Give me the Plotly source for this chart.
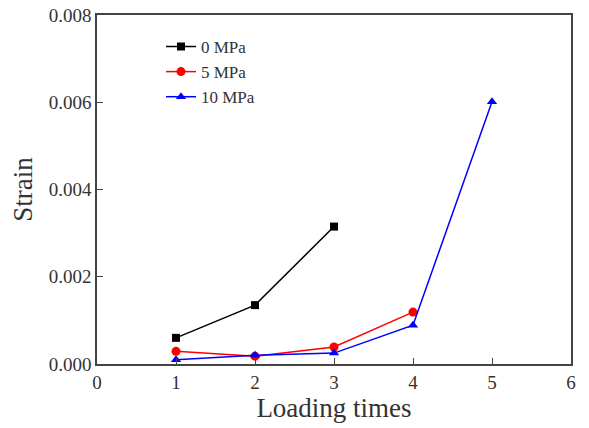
import plotly.graph_objects as go

x0 = [1, 2, 3]
y0 = [0.0006, 0.00135, 0.00315]
x5 = [1, 2, 3, 4]
y5 = [0.00029, 0.00018, 0.00039, 0.00119]
x10 = [1, 2, 3, 4, 5]
y10 = [0.0001, 0.0002, 0.00025, 0.00089, 0.00601]

fig = go.Figure()
fig.add_trace(go.Scatter(x=x0, y=y0, mode="lines+markers", name="0 MPa",
                         line=dict(color="black", width=1.5),
                         marker=dict(symbol="square", size=8, color="black")))
fig.add_trace(go.Scatter(x=x5, y=y5, mode="lines+markers", name="5 MPa",
                         line=dict(color="red", width=1.5),
                         marker=dict(symbol="circle", size=9, color="red")))
fig.add_trace(go.Scatter(x=x10, y=y10, mode="lines+markers", name="10 MPa",
                         line=dict(color="blue", width=1.5),
                         marker=dict(symbol="triangle-up", size=9, color="blue")))

axis_common = dict(showline=True, linecolor="#444", linewidth=1.5, mirror=True,
                   ticks="inside", ticklen=6, tickcolor="#444", showgrid=False,
                   zeroline=False, automargin=False,
                   tickfont=dict(family="Liberation Serif", size=19, color="#333"))

fig.update_layout(
    width=589, height=428,
    margin=dict(l=97, r=18, t=15, b=64),
    plot_bgcolor="white", paper_bgcolor="white",
    font=dict(family="Liberation Serif", color="#333"),
    xaxis=dict(range=[0, 6], tickvals=[0, 1, 2, 3, 4, 5, 6],
               title=dict(text="Loading times", font=dict(size=27), standoff=4),
               **axis_common),
    yaxis=dict(range=[0, 0.008], tickvals=[0, 0.002, 0.004, 0.006, 0.008],
               tickformat=".3f",
               title=dict(text="Strain", font=dict(size=27), standoff=8),
               **axis_common),
    legend=dict(x=0.135, y=0.96, xanchor="left", yanchor="top",
                bgcolor="rgba(0,0,0,0)", font=dict(size=17, family="Liberation Serif"),
                itemwidth=30, tracegroupgap=0),
    showlegend=True,
)

fig.write_html("out.html", config={"displayModeBar": False},
               post_script="document.body.style.margin='0';")
